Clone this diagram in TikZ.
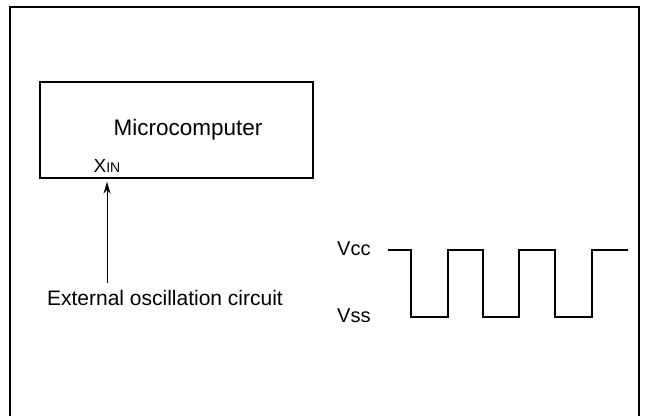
\documentclass[tikz,border=0pt]{standalone}
\usepackage{fontspec}
\setmainfont{Liberation Sans}
\usetikzlibrary{arrows.meta,positioning,calc}

\begin{document}
\begin{tikzpicture}[
  x=1pt, y=-1pt,
  frame/.style={line width=2pt, black},
  chip/.style={draw, line width=1.4pt, minimum width=273pt, minimum height=96pt, inner sep=0pt},
  lbl/.style={font=\fontsize{21}{25}\selectfont, inner sep=0pt},
  pin/.style={font=\fontsize{19}{22}\selectfont, inner sep=0pt},
  wave/.style={line width=2pt, line join=miter},
  arr/.style={-{Stealth[length=12pt, width=7pt]}, line width=1pt}
]
  \useasboundingbox (0,0) rectangle (648,416);
  % outer frame, open at the bottom
  \draw[frame] (10,416) -- (10,7) -- (639,7) -- (639,416);

  \node[chip] (mcu) at (176.5,130) {};
  \node[lbl, anchor=base, font=\fontsize{22.5}{26}\selectfont] (name) at (188,135) {Microcomputer};
  \node[pin, anchor=base] (xin) at (107,172) {X{\fontsize{14}{16}\selectfont IN}};
  \node[lbl, anchor=base] (ext) at (165,305) {External oscillation circuit};

  \draw[arr, shorten >=3pt] ([yshift=7pt]ext.north -| xin.south) -- (xin.south |- mcu.south);

  % clock waveform
  \node[lbl, anchor=base west, font=\fontsize{20}{24}\selectfont] (vcc) at (337,255) {Vcc};
  \node[lbl, anchor=base west, font=\fontsize{20}{24}\selectfont] (vss) at (337,322) {Vss};
  \draw[wave] (388,250) -- (411,250) -- (411,317) -- (448,317) -- (448,250)
    -- (483,250) -- (483,317) -- (519,317) -- (519,250)
    -- (555,250) -- (555,317) -- (592,317) -- (592,250) -- (628,250);
\end{tikzpicture}
\end{document}
